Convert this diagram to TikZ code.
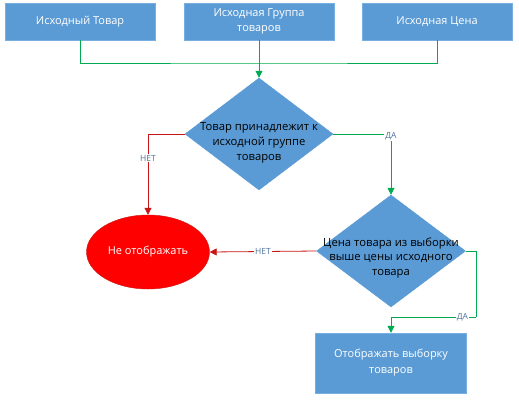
\documentclass[tikz,border=0pt]{standalone}
\usepackage{fontspec}
\setmainfont{Open Sans}
\usepackage{tikz}
\usetikzlibrary{shapes.geometric,arrows.meta}
\definecolor{flowblue}{RGB}{91,155,213}
\definecolor{flowedge}{RGB}{120,175,225}
\definecolor{flowgreen}{RGB}{0,170,80}
\definecolor{flowred}{RGB}{200,20,20}
\definecolor{flowlabel}{RGB}{80,115,155}

\begin{document}
\begin{tikzpicture}[x=1bp, y=-1bp,
    inbox/.style={draw=flowedge, fill=flowblue, text=white, align=center, minimum width=150bp, minimum height=37bp, inner sep=0pt, font=\fontsize{11}{14.5}\selectfont},
    check/.style={draw=flowblue, fill=flowblue, diamond, inner sep=0pt},
    checktext/.style={text=black, align=center, font=\fontsize{11.3}{15}\selectfont},
    yesline/.style={draw=flowgreen, line width=0.8pt, -{Triangle[length=7bp,width=7bp]}},
    noline/.style={draw=flowred, line width=0.8pt, -{Triangle[length=7bp,width=7bp]}},
    answer/.style={text=flowlabel, fill=white, inner sep=1pt, font=\fontsize{8.5}{9}\selectfont}]
    \useasboundingbox (0,0) rectangle (519,403);

    % Source data
    \node[inbox] (item) at (80,21.5) {Исходный Товар};
    \node[inbox] (group) at (259,21.5) {Исходная Группа\\товаров};
    \node[inbox] (price) at (437,21.5) {Исходная Цена};

    % Group check
    \node[check, minimum width=148bp, minimum height=112bp,
        label={[checktext, yshift=-9bp]center:Товар принадлежит к\\исходной группе\\товаров}] (ingroup) at (259,134) {};

    % Price check
    \node[check, minimum width=149bp, minimum height=112bp,
        label={[checktext, yshift=-7bp]center:Цена товара из выборки\\выше цены исходного\\товара}] (higher) at (391,251) {};

    % Results
    \node[ellipse, draw=flowred, fill=red, text=white, minimum width=111bp, minimum height=74bp,
        font=\fontsize{11}{14}\selectfont] (hide) at (148,252) {Не отображать};
    \node[inbox, minimum width=151bp, minimum height=60bp, font=\fontsize{11}{16}\selectfont] (show) at (391,363) {Отображать выборку\\товаров};

    \coordinate (join) at (259,63);
    \coordinate (turn) at (476,317);

    % Connectors
    \draw[flowgreen, line width=0.8pt] (item.south) |- (join) -| (price.south);
    \draw[yesline] (group.south) -- (ingroup.north);
    \draw[noline] (ingroup.west) -| node[answer, pos=0.65] {НЕТ} (hide.north);
    \draw[yesline] (ingroup.east) -| node[answer, pos=0.52] {ДА} (higher.north);
    \draw[noline] (higher.west) -- node[answer] {НЕТ} (hide.east);
    \draw[flowgreen, line width=0.8pt] (higher.east) -| (turn);
    \draw[yesline] (turn) -| node[answer, pos=0.08] {ДА} (show.north);
\end{tikzpicture}
\end{document}
